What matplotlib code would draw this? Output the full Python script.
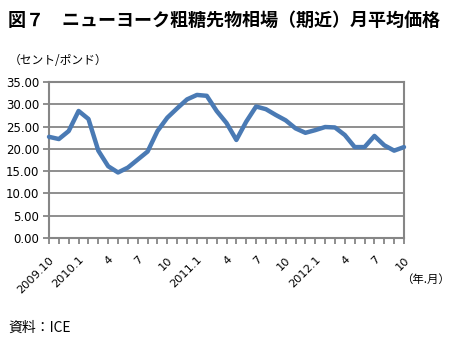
import matplotlib
matplotlib.use("Agg")
import matplotlib.pyplot as plt
import numpy as np

plt.rcParams['font.family'] = ['DejaVu Sans', 'Noto Sans CJK JP']

# Monthly average price, Oct 2009 - Oct 2012 (cents per pound)
months = list(range(37))
prices = [22.7, 22.2, 24.0, 28.5, 26.7, 19.6, 16.1, 14.7, 15.8, 17.6,
          19.4, 24.0, 27.0, 29.1, 31.1, 32.1, 31.9, 28.5, 25.8, 22.0,
          26.1, 29.5, 28.9, 27.6, 26.4, 24.6, 23.6, 24.2, 24.9, 24.8,
          23.1, 20.4, 20.4, 22.9, 20.8, 19.6, 20.4]
tick_pos = list(range(0, 37, 3))
tick_labels = ["2009.10", "2010.1", "4", "7", "10", "2011.1", "4", "7", "10",
               "2012.1", "4", "7", "10"]
y_ticks = [0, 5, 10, 15, 20, 25, 30, 35]

W, H = 452, 341
fig = plt.figure(figsize=(W / 100, H / 100), dpi=100)
ax = fig.add_axes([49 / W, 1 - 238 / H, (404 - 49) / W, (238 - 82) / H])

grid_c = '#868686'
ax.plot(months, prices, color='#4a7ab4', lw=3.2, solid_joinstyle='round',
        solid_capstyle='round', zorder=3, clip_on=False)

ax.set_xlim(0, 36)
ax.set_ylim(0, 35)
ax.set_yticks(y_ticks)
ax.set_yticklabels([f"{v:.2f}" for v in y_ticks], fontsize=8.5)
ax.yaxis.grid(True, color=grid_c, lw=1.3)
ax.set_axisbelow(True)

ax.set_xticks(months, minor=True)
ax.set_xticks(tick_pos)
ax.set_xticklabels(tick_labels, rotation=45, ha='right', va='top',
                   rotation_mode='anchor', fontsize=8.2)
ax.tick_params(axis='x', which='both', length=4, width=1.3, color=grid_c,
               direction='out')
ax.tick_params(axis='x', which='major', pad=8)
ax.tick_params(axis='y', length=4, width=1.3, color=grid_c, pad=3)
for s in ax.spines.values():
    s.set_color(grid_c)
    s.set_linewidth(1.5)

fig.text(8 / W, 1 - 20 / H, "図７　ニューヨーク粗糖先物相場（期近）月平均価格",
         family=['Noto Sans CJK JP'], fontsize=13, fontweight='bold',
         ha='left', va='center')
fig.text(9 / W, 1 - 61 / H, "（セント/ポンド）", family=['Noto Sans CJK JP'],
         fontsize=8.5, ha='left', va='center')
fig.text(401 / W, 1 - 279 / H, "（年.月）", family=['Noto Sans CJK JP'],
         fontsize=8.2, ha='left', va='center')
fig.text(8 / W, 1 - 328 / H, "資料：ICE", family=['Noto Sans CJK JP', 'DejaVu Sans'],
         fontsize=10, ha='left', va='center')

fig.savefig("out.png", dpi=100)
